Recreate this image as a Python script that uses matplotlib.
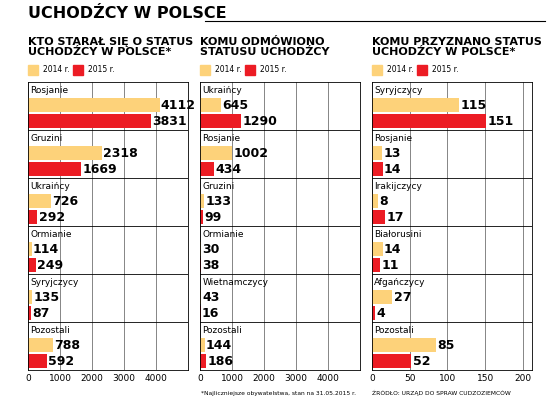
import matplotlib.pyplot as plt
from matplotlib.patches import Rectangle

plt.rcParams['font.family'] = ['DejaVu Sans']

YELLOW = '#fdd27a'
RED = '#ec1c24'

titles = ["KTO STARAŁ SIĘ O STATUS\nUCHODŹCY W POLSCE*",
          "KOMU ODMÓWIONO\nSTATUSU UCHODŹCY",
          "KOMU PRZYZNANO STATUS\nUCHODŹCY W POLSCE*"]

cats1 = ["Rosjanie", "Gruzini", "Ukraińcy", "Ormianie", "Syryjczycy", "Pozostali"]
v1_2014 = [4112, 2318, 726, 114, 135, 788]
v1_2015 = [3831, 1669, 292, 249, 87, 592]

cats2 = ["Ukraińcy", "Rosjanie", "Gruzini", "Ormianie", "Wietnamczycy", "Pozostali"]
v2_2014 = [645, 1002, 133, 30, 43, 144]
v2_2015 = [1290, 434, 99, 38, 16, 186]

cats3 = ["Syryjczycy", "Rosjanie", "Irakijczycy", "Białorusini", "Afgańczycy", "Pozostali"]
v3_2014 = [115, 13, 8, 14, 27, 85]
v3_2015 = [151, 14, 17, 11, 4, 52]

ticks1 = [0, 1000, 2000, 3000, 4000]
ticks3 = [0, 50, 100, 150, 200]

panels = [
    (cats1, v1_2014, v1_2015, ticks1, 5000, 28),
    (cats2, v2_2014, v2_2015, ticks1, 5000, 200),
    (cats3, v3_2014, v3_2015, ticks3, 212, 372),
]

W, H = 559, 418
fig = plt.figure(figsize=(W / 100, H / 100), dpi=100)
fig.patch.set_facecolor('white')

fig.text(28 / W, 1 - 14 / H, "UCHODŹCY W POLSCE", fontsize=11.5, fontweight='bold',
         va='center', ha='left')
fig.add_artist(plt.Line2D([205 / W, 545 / W], [1 - 21 / H] * 2, color='black', lw=0.8))

for i, (cats, a, b, ticks, xmax, x0) in enumerate(panels):
    fig.text(x0 / W, 1 - 47 / H, titles[i], fontsize=8, fontweight='bold',
             va='center', ha='left', linespacing=1.05)
    # legend
    fig.patches.append(Rectangle((x0 / W, 1 - 75 / H), 10 / W, 10 / H, color=YELLOW,
                                 transform=fig.transFigure))
    fig.text((x0 + 15) / W, 1 - 70 / H, "2014 r.", fontsize=5.5, va='center')
    fig.patches.append(Rectangle(((x0 + 45) / W, 1 - 75 / H), 10 / W, 10 / H, color=RED,
                                 transform=fig.transFigure))
    fig.text((x0 + 60) / W, 1 - 70 / H, "2015 r.", fontsize=5.5, va='center')

    ax = fig.add_axes([x0 / W, 1 - 370 / H, 160 / W, 288 / H])
    n = len(cats)
    ya = [3 * k + 1.45 for k in range(n)]
    yb = [3 * k + 2.45 for k in range(n)]
    ax.barh(ya, a, height=0.9, color=YELLOW)
    ax.barh(yb, b, height=0.9, color=RED)
    for k in range(n):
        ax.text(xmax * 0.015, 3 * k + 0.55, cats[k], fontsize=6.5, va='center', ha='left')
        ax.text(a[k] + xmax * 0.008, ya[k], str(a[k]), fontsize=9, fontweight='bold', va='center')
        ax.text(b[k] + xmax * 0.008, yb[k], str(b[k]), fontsize=9, fontweight='bold', va='center')
        if k > 0:
            ax.axhline(3 * k, color='black', lw=0.6)
    ax.set_xlim(0, xmax)
    ax.set_ylim(3 * n, 0)
    ax.set_xticks(ticks)
    ax.set_xticklabels([str(t) for t in ticks], fontsize=6.5)
    ax.set_yticks([])
    ax.grid(axis='x', color='#555555', lw=0.5)
    ax.set_axisbelow(True)
    ax.tick_params(axis='x', length=0, pad=3)
    for s in ax.spines.values():
        s.set_linewidth(0.6)

fig.text(201 / W, 1 - 393 / H, "*Najliczniejsze obywatelstwa, stan na 31.05.2015 r.", fontsize=4.3,
         va='center')
fig.text(372 / W, 1 - 393 / H, "ŹRÓDŁO: URZĄD DO SPRAW CUDZOZIEMCÓW", fontsize=4.3, va='center')

fig.savefig('out.png', dpi=100, facecolor='white')
